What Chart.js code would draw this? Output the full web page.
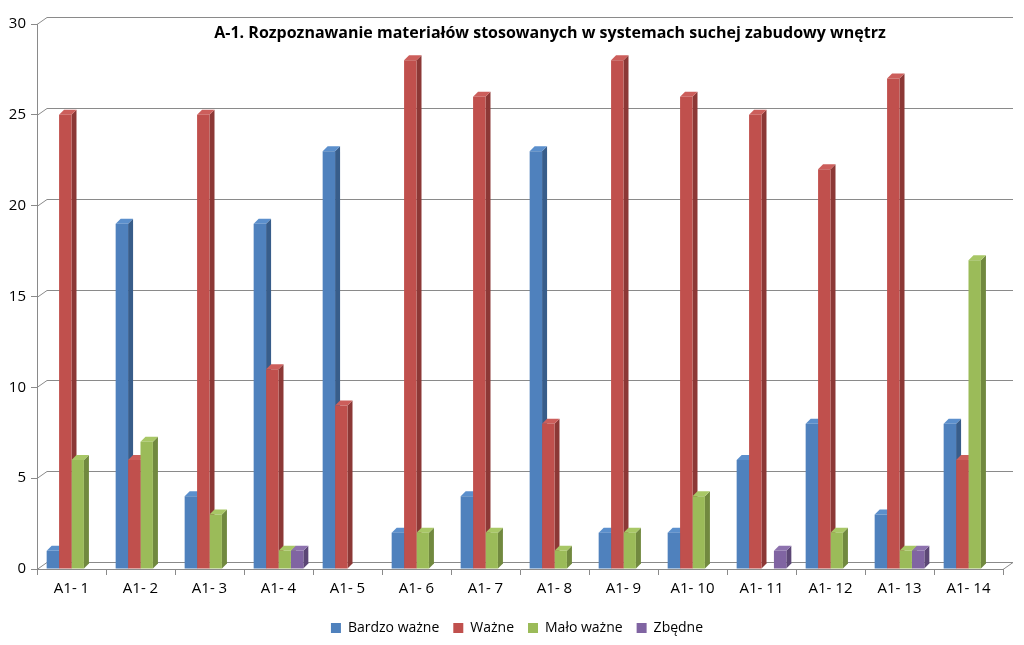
<!DOCTYPE html>
<html><head><meta charset="utf-8">
<script src="https://cdn.jsdelivr.net/npm/chart.js@4/dist/chart.umd.min.js"></script>
<style>html,body{margin:0;padding:0;background:#fff}#wrap{width:1024px;height:645px}</style>
</head><body><div id="wrap"><canvas id="c" width="1024" height="645"></canvas></div>
<script>
const chartTitle = 'A-1. Rozpoznawanie materiałów stosowanych w systemach suchej zabudowy wnętrz';
const categories = ['A1- 1','A1- 2','A1- 3','A1- 4','A1- 5','A1- 6','A1- 7','A1- 8','A1- 9','A1- 10','A1- 11','A1- 12','A1- 13','A1- 14'];
const seriesNames = ['Bardzo ważne','Ważne','Mało ważne','Zbędne'];
const bardzoWazne = [1,19,4,19,23,2,4,23,2,2,6,8,3,8];
const wazne = [25,6,25,11,9,28,26,8,28,26,25,22,27,6];
const maloWazne = [6,7,3,1,0,2,2,1,2,4,0,2,1,17];
const zbedne = [0,0,0,1,0,0,0,0,0,0,1,0,1,0];
const yTicks = [0,5,10,15,20,25,30];

const fronts = ['#4F81BD','#C0504D','#9BBB59','#8064A2'];
const sides = ['#385D8A','#8C3836','#71893F','#5C4776'];
const tops = ['#5B8FCC','#CC5E5B','#A8C766','#8D72AE'];
const FONT = '"Open Sans", "DejaVu Sans", sans-serif';

const depth = {
  id:'depth',
  afterLayout(chart){
    if (chart.legend) { chart.legend.left += 31; }
  },
  beforeDatasetsDraw(chart){
    const ctx = chart.ctx, a = chart.chartArea, ys = chart.scales.y;
    const ox = 10, oy = 7;
    ctx.save();
    ctx.strokeStyle = '#8A8A8A'; ctx.lineWidth = 1;
    yTicks.forEach(v=>{
      const py = Math.round(ys.getPixelForValue(v))+0.5;
      ctx.beginPath();
      ctx.moveTo(a.left, py); ctx.lineTo(a.left+ox, py-oy); ctx.lineTo(a.right+ox, py-oy);
      ctx.stroke();
    });
    const by = Math.round(ys.getPixelForValue(0))+0.5;
    ctx.beginPath(); ctx.moveTo(a.right, by); ctx.lineTo(a.right+ox, by-oy); ctx.stroke();
    ctx.restore();
    const d = 5, dy = 5;
    chart.data.datasets.forEach((ds,i)=>{
      const meta = chart.getDatasetMeta(i);
      meta.data.forEach((el,j)=>{
        if(!ds.data[j]) return;
        const {x,y,base,width} = el.getProps(['x','y','base','width'],true);
        const l = x-width/2, r = x+width/2;
        ctx.save();
        ctx.fillStyle = sides[i];
        ctx.beginPath();
        ctx.moveTo(r,y); ctx.lineTo(r+d,y-dy); ctx.lineTo(r+d,base-dy); ctx.lineTo(r,base); ctx.closePath(); ctx.fill();
        ctx.fillStyle = tops[i];
        ctx.beginPath();
        ctx.moveTo(l,y); ctx.lineTo(l+d,y-dy); ctx.lineTo(r+d,y-dy); ctx.lineTo(r,y); ctx.closePath(); ctx.fill();
        ctx.restore();
      });
    });
  },
  afterDraw(chart){
    const ctx = chart.ctx;
    ctx.save();
    ctx.fillStyle = '#000';
    ctx.font = 'bold 16px ' + FONT;
    ctx.textAlign = 'center'; ctx.textBaseline = 'middle';
    ctx.fillText(chartTitle, 550, 33);
    ctx.restore();
  }
};

new Chart(document.getElementById('c'),{
  type:'bar',
  data:{labels:categories,datasets:[
    {label:seriesNames[0],data:bardzoWazne,backgroundColor:fronts[0]},
    {label:seriesNames[1],data:wazne,backgroundColor:fronts[1]},
    {label:seriesNames[2],data:maloWazne,backgroundColor:fronts[2]},
    {label:seriesNames[3],data:zbedne,backgroundColor:fronts[3]}
  ]},
  options:{
    responsive:false,animation:false,
    layout:{padding:{left:0,right:21,top:24,bottom:0}},
    datasets:{bar:{categoryPercentage:0.72,barPercentage:1.0}},
    scales:{
      x:{grid:{display:true,drawOnChartArea:false,color:'#8A8A8A',tickLength:6,offset:true},
         border:{color:'#8A8A8A'},
         ticks:{color:'#000',font:{size:15,family:FONT},padding:5,maxRotation:0},
         afterFit(s){s.height=38;}},
      y:{min:0,max:30,afterBuildTicks(s){s.ticks=yTicks.map(v=>({value:v}));},
         grid:{color:'#8A8A8A',tickLength:6,drawOnChartArea:false},border:{color:'#8A8A8A'},
         ticks:{color:'#000',font:{size:15,family:FONT},padding:5},
         afterFit(s){s.width=37;}}
    },
    plugins:{
      legend:{position:'bottom',labels:{boxWidth:10,boxHeight:10,color:'#000',padding:14,font:{size:14,family:FONT}}},
      tooltip:{enabled:false}
    }
  },
  plugins:[depth]
});
</script></body></html>
